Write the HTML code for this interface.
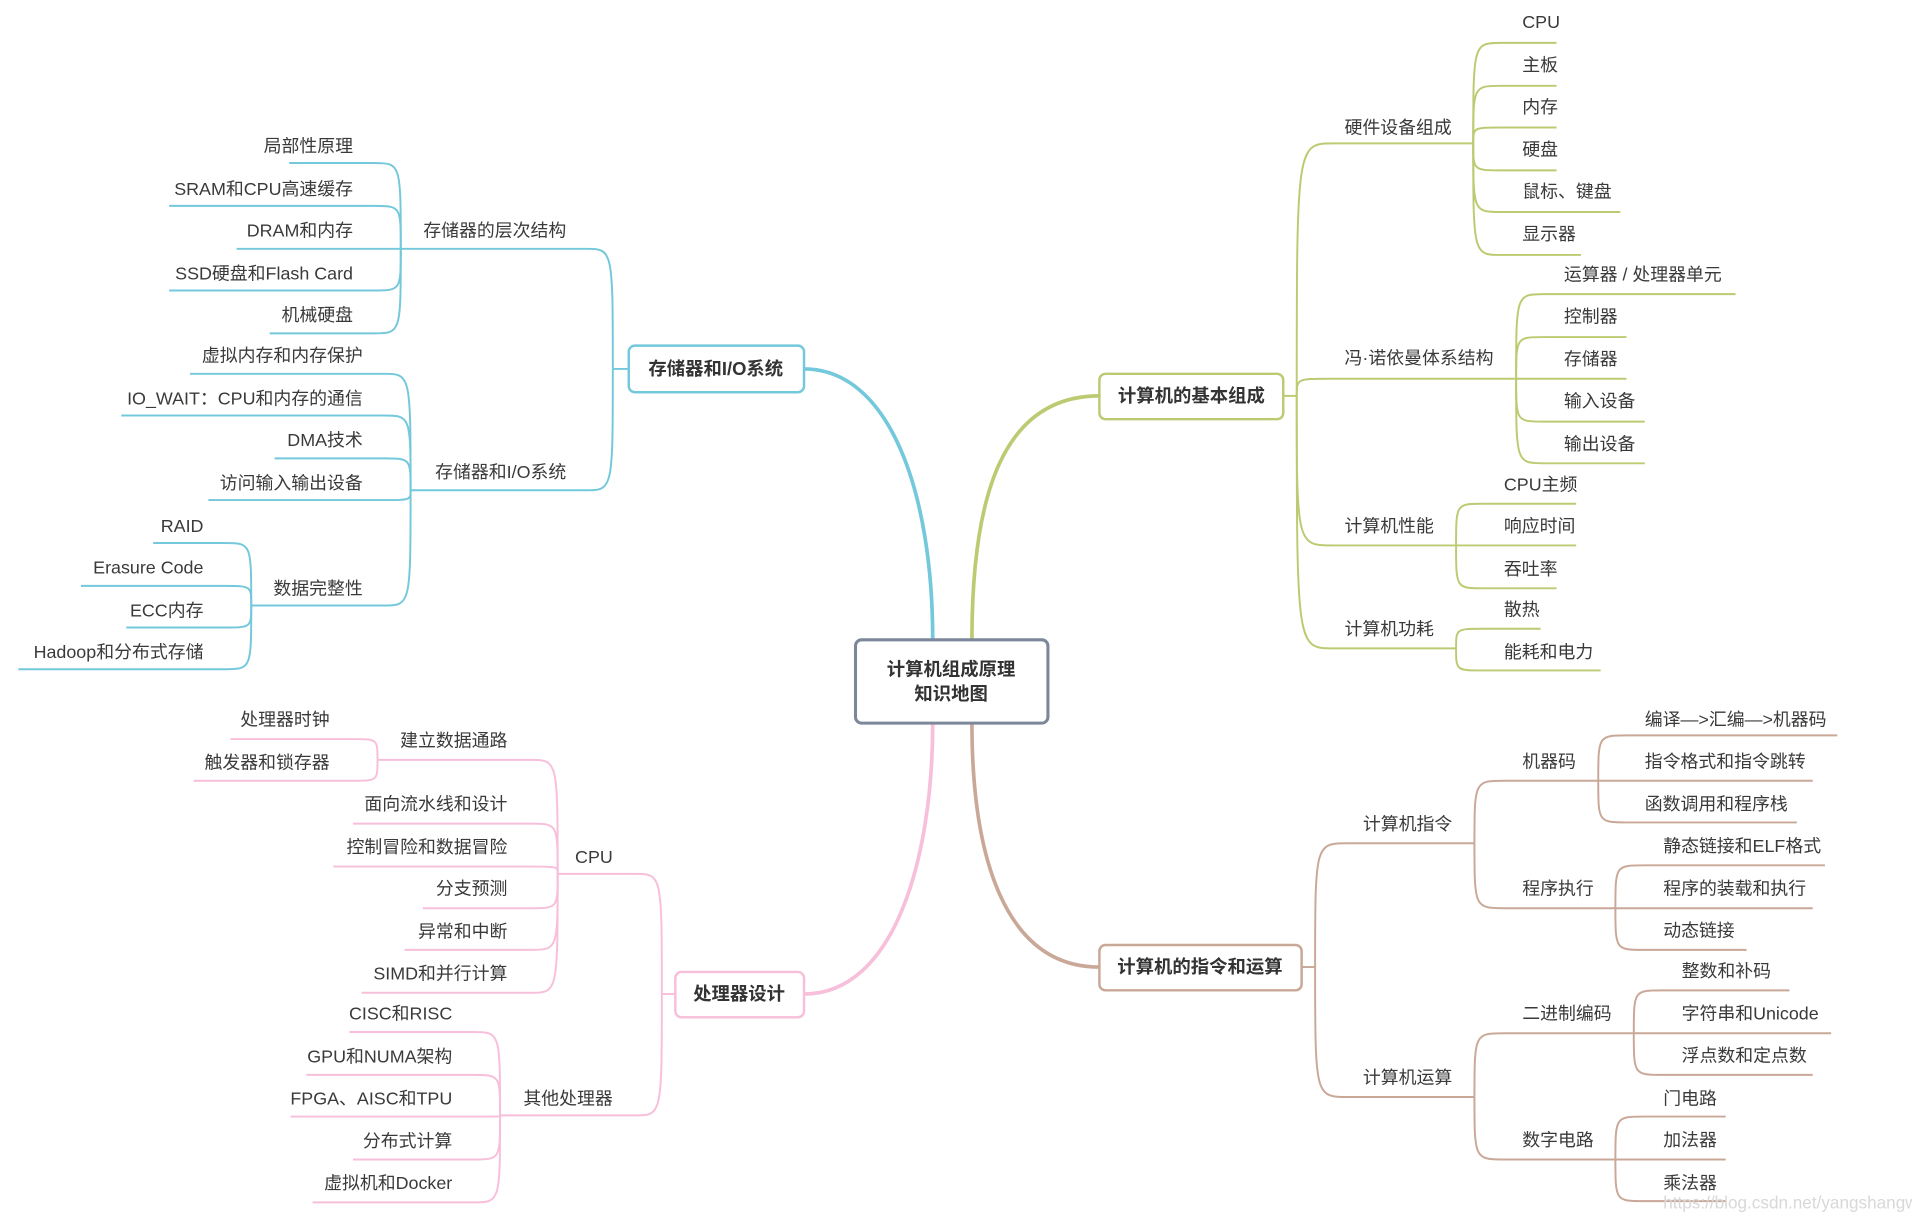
<!DOCTYPE html>
<html><head><meta charset="utf-8">
<style>
html,body{margin:0;padding:0;background:#fff;}
svg{display:block;}
text{font-family:"Liberation Sans","Noto Sans CJK SC",sans-serif;font-size:14.6px;fill:#3a3a3a;}
.b{font-weight:bold;font-size:15px;fill:#333;}
.g{fill:none;stroke:#bccb72;stroke-width:1.6;}
.c{fill:none;stroke:#74c8dc;stroke-width:1.6;}
.p{fill:none;stroke:#f8bfda;stroke-width:1.6;}
.r{fill:none;stroke:#c9a898;stroke-width:1.6;}
.e{text-anchor:end;}
.m{text-anchor:middle;}
</style></head><body>
<svg width="1912" height="1215" viewBox="0 0 1560 991.3" preserveAspectRatio="none" xmlns="http://www.w3.org/2000/svg">
<rect width="1560" height="992" fill="#fff"/>

<!-- main connectors -->
<path d="M793 522 C793 400,820 323,897 323" fill="none" stroke="#bccb72" stroke-width="3"/>
<path d="M761 522 C761 400,725 301,656 301" fill="none" stroke="#74c8dc" stroke-width="3"/>
<path d="M761 590 C761 700,730 811,656 811" fill="none" stroke="#f8bfda" stroke-width="3"/>
<path d="M793 590 C793 700,820 789,897 789" fill="none" stroke="#c9a898" stroke-width="3"/>

<!-- center -->
<rect x="698" y="522" width="157" height="68" rx="5" fill="#fff" stroke="#7c879a" stroke-width="2.5"/>
<text class="b m" x="776" y="551">计算机组成原理</text>
<text class="b m" x="776" y="571">知识地图</text>

<!-- GREEN -->
<rect x="897" y="305" width="150" height="37" rx="5" fill="#fff" stroke="#bccb72" stroke-width="2"/>
<text class="b m" x="972" y="328">计算机的基本组成</text>
<path class="g" d="M1047 323 L1058 323"/>
<path class="g" d="M1058 323 C1058 117,1058 117,1088 117 L1202 117"/>
<path class="g" d="M1058 323 C1058 309,1058 309,1085 309 L1237 309"/>
<path class="g" d="M1058 323 C1058 445,1058 445,1088 445 L1188 445"/>
<path class="g" d="M1058 323 C1058 529,1058 529,1088 529 L1188 529"/>
<text x="1097" y="109">硬件设备组成</text>
<text x="1097" y="297">冯·诺依曼体系结构</text>
<text x="1097" y="434">计算机性能</text>
<text x="1097" y="518">计算机功耗</text>

<path class="g" d="M1202 117 C1202 35,1202 35,1225 35 L1270 35"/>
<path class="g" d="M1202 117 C1202 70,1202 70,1225 70 L1270 70"/>
<path class="g" d="M1202 117 C1202 104,1202 104,1225 104 L1270 104"/>
<path class="g" d="M1202 117 C1202 139,1202 139,1225 139 L1270 139"/>
<path class="g" d="M1202 117 C1202 173,1202 173,1225 173 L1322 173"/>
<path class="g" d="M1202 117 C1202 208,1202 208,1225 208 L1290 208"/>
<text x="1242" y="23">CPU</text>
<text x="1242" y="58">主板</text>
<text x="1242" y="92">内存</text>
<text x="1242" y="127">硬盘</text>
<text x="1242" y="161">鼠标、键盘</text>
<text x="1242" y="196">显示器</text>

<path class="g" d="M1237 309 C1237 240,1237 240,1260 240 L1416 240"/>
<path class="g" d="M1237 309 C1237 275,1237 275,1260 275 L1327 275"/>
<path class="g" d="M1237 309 L1327 309"/>
<path class="g" d="M1237 309 C1237 344,1237 344,1260 344 L1342 344"/>
<path class="g" d="M1237 309 C1237 378,1237 378,1260 378 L1342 378"/>
<text x="1276" y="229">运算器 / 处理器单元</text>
<text x="1276" y="263">控制器</text>
<text x="1276" y="298">存储器</text>
<text x="1276" y="332">输入设备</text>
<text x="1276" y="367">输出设备</text>

<path class="g" d="M1188 445 C1188 411,1188 411,1210 411 L1286 411"/>
<path class="g" d="M1188 445 L1286 445"/>
<path class="g" d="M1188 445 C1188 480,1188 480,1210 480 L1270 480"/>
<text x="1227" y="400">CPU主频</text>
<text x="1227" y="434">响应时间</text>
<text x="1227" y="469">吞吐率</text>

<path class="g" d="M1188 529 C1188 513,1188 513,1210 513 L1257 513"/>
<path class="g" d="M1188 529 C1188 547,1188 547,1210 547 L1306 547"/>
<text x="1227" y="502">散热</text>
<text x="1227" y="537">能耗和电力</text>

<!-- BROWN -->
<rect x="897" y="771" width="165" height="37" rx="5" fill="#fff" stroke="#c9a898" stroke-width="2"/>
<text class="b m" x="979" y="794">计算机的指令和运算</text>
<path class="r" d="M1062 789 L1073 789"/>
<path class="r" d="M1073 789 C1073 688,1073 688,1100 688 L1203 688"/>
<path class="r" d="M1073 789 C1073 895,1073 895,1100 895 L1203 895"/>
<text x="1112" y="677">计算机指令</text>
<text x="1112" y="884">计算机运算</text>

<path class="r" d="M1203 688 C1203 637,1203 637,1228 637 L1304 637"/>
<path class="r" d="M1203 688 C1203 741,1203 741,1228 741 L1318 741"/>
<text x="1242" y="626">机器码</text>
<text x="1242" y="730">程序执行</text>

<path class="r" d="M1304 637 C1304 600,1304 600,1328 600 L1499 600"/>
<path class="r" d="M1304 637 L1479 637"/>
<path class="r" d="M1304 637 C1304 671,1304 671,1328 671 L1466 671"/>
<text x="1342" y="592">编译—&gt;汇编—&gt;机器码</text>
<text x="1342" y="626">指令格式和指令跳转</text>
<text x="1342" y="661">函数调用和程序栈</text>

<path class="r" d="M1318 741 C1318 706,1318 706,1342 706 L1489 706"/>
<path class="r" d="M1318 741 L1479 741"/>
<path class="r" d="M1318 741 C1318 775,1318 775,1342 775 L1425 775"/>
<text x="1357" y="695">静态链接和ELF格式</text>
<text x="1357" y="730">程序的装载和执行</text>
<text x="1357" y="764">动态链接</text>

<path class="r" d="M1203 895 C1203 843,1203 843,1228 843 L1333 843"/>
<path class="r" d="M1203 895 C1203 946,1203 946,1228 946 L1318 946"/>
<text x="1242" y="832">二进制编码</text>
<text x="1242" y="935">数字电路</text>

<path class="r" d="M1333 843 C1333 808,1333 808,1357 808 L1460 808"/>
<path class="r" d="M1333 843 L1494 843"/>
<path class="r" d="M1333 843 C1333 877,1333 877,1357 877 L1479 877"/>
<text x="1372" y="797">整数和补码</text>
<text x="1372" y="832">字符串和Unicode</text>
<text x="1372" y="866">浮点数和定点数</text>

<path class="r" d="M1318 946 C1318 911,1318 911,1342 911 L1408 911"/>
<path class="r" d="M1318 946 L1408 946"/>
<path class="r" d="M1318 946 C1318 980,1318 980,1342 980 L1408 980"/>
<text x="1357" y="901">门电路</text>
<text x="1357" y="935">加法器</text>
<text x="1357" y="970">乘法器</text>
<text x="1357" y="986" style="fill:#d8d8d8;font-size:14px">https://blog.csdn.net/yangshangwei</text>

<!-- CYAN -->
<rect x="513" y="282" width="143" height="38" rx="5" fill="#fff" stroke="#74c8dc" stroke-width="2"/>
<text class="b m" x="584" y="306">存储器和I/O系统</text>
<path class="c" d="M513 301 L500 301"/>
<path class="c" d="M500 301 C500 203,500 203,478 203 L327 203"/>
<path class="c" d="M500 301 C500 400,500 400,478 400 L335 400"/>
<text class="e" x="462" y="193">存储器的层次结构</text>
<text class="e" x="462" y="390">存储器和I/O系统</text>

<path class="c" d="M327 203 C327 133,327 133,305 133 L236 133"/>
<path class="c" d="M327 203 C327 168,327 168,305 168 L138 168"/>
<path class="c" d="M327 203 L193 203"/>
<path class="c" d="M327 203 C327 237,327 237,305 237 L138 237"/>
<path class="c" d="M327 203 C327 272,327 272,305 272 L220 272"/>
<text class="e" x="288" y="124">局部性原理</text>
<text class="e" x="288" y="159">SRAM和CPU高速缓存</text>
<text class="e" x="288" y="193">DRAM和内存</text>
<text class="e" x="288" y="228">SSD硬盘和Flash Card</text>
<text class="e" x="288" y="262">机械硬盘</text>

<path class="c" d="M335 400 C335 305,335 305,313 305 L155 305"/>
<path class="c" d="M335 400 C335 339,335 339,313 339 L99 339"/>
<path class="c" d="M335 400 C335 374,335 374,313 374 L224 374"/>
<path class="c" d="M335 400 C335 408,335 408,313 408 L170 408"/>
<path class="c" d="M335 400 C335 494,335 494,313 494 L205 494"/>
<text class="e" x="296" y="295">虚拟内存和内存保护</text>
<text class="e" x="296" y="330">IO_WAIT：CPU和内存的通信</text>
<text class="e" x="296" y="364">DMA技术</text>
<text class="e" x="296" y="399">访问输入输出设备</text>
<text class="e" x="296" y="485">数据完整性</text>

<path class="c" d="M205 494 C205 443,205 443,183 443 L125 443"/>
<path class="c" d="M205 494 C205 478,205 478,183 478 L66 478"/>
<path class="c" d="M205 494 C205 512,205 512,183 512 L103 512"/>
<path class="c" d="M205 494 C205 546,205 546,183 546 L15 546"/>
<text class="e" x="166" y="434">RAID</text>
<text class="e" x="166" y="468">Erasure Code</text>
<text class="e" x="166" y="503">ECC内存</text>
<text class="e" x="166" y="537">Hadoop和分布式存储</text>

<!-- PINK -->
<rect x="551" y="793" width="105" height="37" rx="5" fill="#fff" stroke="#f8bfda" stroke-width="2"/>
<text class="b m" x="603" y="816">处理器设计</text>
<path class="p" d="M551 811 L540 811"/>
<path class="p" d="M540 811 C540 713,540 713,518 713 L455 713"/>
<path class="p" d="M540 811 C540 910,540 910,518 910 L408 910"/>
<text class="e" x="500" y="704">CPU</text>
<text class="e" x="500" y="901">其他处理器</text>

<path class="p" d="M455 713 C455 620,455 620,433 620 L308 620"/>
<path class="p" d="M455 713 C455 672,455 672,433 672 L288 672"/>
<path class="p" d="M455 713 C455 707,455 707,433 707 L272 707"/>
<path class="p" d="M455 713 C455 741,455 741,433 741 L345 741"/>
<path class="p" d="M455 713 C455 775,455 775,433 775 L330 775"/>
<path class="p" d="M455 713 C455 810,455 810,433 810 L295 810"/>
<text class="e" x="414" y="609">建立数据通路</text>
<text class="e" x="414" y="661">面向流水线和设计</text>
<text class="e" x="414" y="696">控制冒险和数据冒险</text>
<text class="e" x="414" y="730">分支预测</text>
<text class="e" x="414" y="765">异常和中断</text>
<text class="e" x="414" y="799">SIMD和并行计算</text>

<path class="p" d="M308 620 C308 603,308 603,288 603 L188 603"/>
<path class="p" d="M308 620 C308 637,308 637,288 637 L158 637"/>
<text class="e" x="269" y="592">处理器时钟</text>
<text class="e" x="269" y="627">触发器和锁存器</text>

<path class="p" d="M408 910 C408 842,408 842,386 842 L285 842"/>
<path class="p" d="M408 910 C408 877,408 877,386 877 L250 877"/>
<path class="p" d="M408 910 C408 911,408 911,386 911 L237 911"/>
<path class="p" d="M408 910 C408 946,408 946,386 946 L288 946"/>
<path class="p" d="M408 910 C408 981,408 981,386 981 L255 981"/>
<text class="e" x="369" y="832">CISC和RISC</text>
<text class="e" x="369" y="867">GPU和NUMA架构</text>
<text class="e" x="369" y="901">FPGA、AISC和TPU</text>
<text class="e" x="369" y="936">分布式计算</text>
<text class="e" x="369" y="970">虚拟机和Docker</text>
</svg>
</body></html>
